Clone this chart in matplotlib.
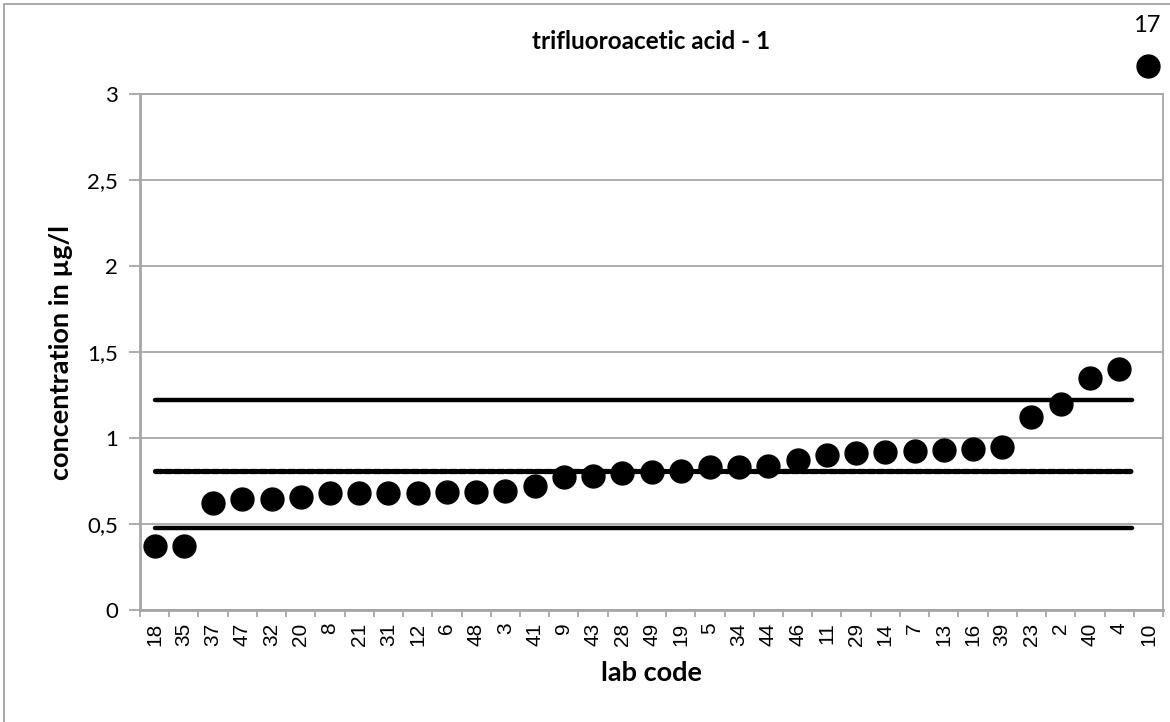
import matplotlib
matplotlib.use("Agg")
import matplotlib.pyplot as plt
from matplotlib.patches import Rectangle

labs = ["18", "35", "37", "47", "32", "20", "8", "21", "31", "12", "6", "48", "3", "41",
        "9", "43", "28", "49", "19", "5", "34", "44", "46", "11", "29", "14", "7", "13",
        "16", "39", "23", "2", "40", "4", "10"]
values = [0.37, 0.37, 0.62, 0.645, 0.645, 0.657, 0.68, 0.68, 0.68, 0.682, 0.686, 0.686,
          0.69, 0.72, 0.775, 0.78, 0.795, 0.80, 0.81, 0.83, 0.83, 0.84, 0.87, 0.90, 0.91,
          0.92, 0.925, 0.93, 0.935, 0.945, 1.12, 1.20, 1.35, 1.40, 3.16]
outlier_label = "17"
assigned_value = 0.808
upper_limit = 1.223
lower_limit = 0.476
yticks = [0, 0.5, 1, 1.5, 2, 2.5, 3]
ytick_labels = ["0", "0,5", "1", "1,5", "2", "2,5", "3"]

W, H = 1170, 722
fig = plt.figure(figsize=(W / 100, H / 100), dpi=100)
ax = fig.add_axes([140 / W, 1 - 610 / H, (1163 - 140) / W, (610 - 94) / H])

fig.patches.append(Rectangle((4 / W, -0.01), 1.2, (1 - 4 / H) + 0.01, transform=fig.transFigure,
                             fill=False, edgecolor="#9a9a9a", linewidth=1.2))

x = list(range(len(labs)))
ax.set_xlim(-0.5, len(labs) - 0.5)
ax.set_ylim(0, 3)

ax.set_yticks(yticks)
ax.set_yticklabels(ytick_labels, fontfamily="Lato", fontsize=16)
ax.yaxis.grid(True, color="#a6a6a6", linewidth=1.3)
ax.set_axisbelow(True)

ax.set_xticks(x)
ax.set_xticklabels(labs, rotation=90, fontfamily="Liberation Sans", fontsize=15)
ax.tick_params(axis="x", which="major", length=0, pad=9)
ax.set_xticks([i - 0.5 for i in range(len(labs) + 1)], minor=True)
ax.tick_params(axis="x", which="minor", length=5, color="#a6a6a6", width=1.3)
ax.tick_params(axis="y", length=8, color="#a6a6a6", width=1.3, pad=8)

for s in ax.spines.values():
    s.set_color("#a6a6a6")
    s.set_linewidth(1.3)
ax.spines["left"].set_linewidth(2)
ax.spines["bottom"].set_linewidth(2)

xe = [0, len(labs) - 1.55]
ax.plot(xe, [upper_limit] * 2, color="black", linewidth=3.2, solid_capstyle="round", zorder=3)
ax.plot(xe, [lower_limit] * 2, color="black", linewidth=3.2, solid_capstyle="round", zorder=3)
ax.plot(xe, [assigned_value] * 2, color="black", linewidth=3.8, linestyle=(0, (1.2, 0.6)),
        dash_capstyle="round", zorder=3)

ax.plot(x, values, linestyle="none", marker="o", markersize=16.5, color="black",
        clip_on=False, zorder=4)
ax.annotate(outlier_label, (x[-1], values[-1]), xytext=(-1, 22), textcoords="offset points",
            ha="center", va="bottom", fontfamily="Lato", fontsize=17, annotation_clip=False)

ax.set_title("trifluoroacetic acid - 1", fontfamily="Lato", fontweight="bold", fontsize=17.5,
             pad=0, y=(610 - 49) / (610 - 94))
ax.set_ylabel("concentration in µg/l", fontfamily="Lato", fontweight="bold", fontsize=19.5,
              labelpad=10)
ax.set_xlabel("lab code", fontfamily="Lato", fontweight="bold", fontsize=19.5, labelpad=11)

fig.savefig("out.png", dpi=100)
